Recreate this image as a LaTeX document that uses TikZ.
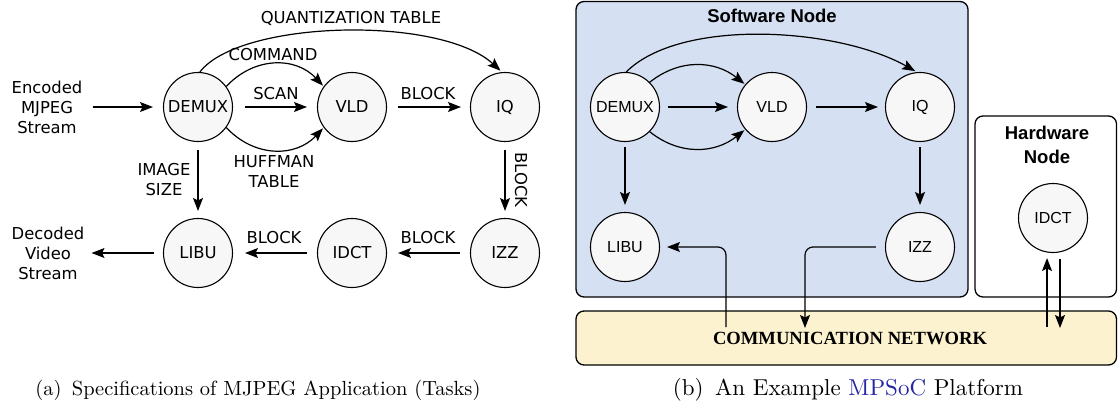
\documentclass[tikz,border=0pt]{standalone}
\usepackage{graphicx}
\usepackage{fontspec}
\newfontfamily\dvs{DejaVu Sans}
\newfontfamily\lsans{Liberation Sans}
\newfontfamily\lserif{Liberation Serif}
\usetikzlibrary{arrows.meta}
\definecolor{swblue}{HTML}{D5E0F3}
\definecolor{netyellow}{HTML}{FDF2D0}
\definecolor{circfill}{HTML}{F7F7F7}
\definecolor{linkblue}{HTML}{2525A5}
\begin{document}
\begin{tikzpicture}[x=1pt,y=-1pt,
  task/.style={circle,draw,line width=1.1pt,fill=circfill,minimum size=69pt,inner sep=0pt},
  ltask/.style={task,font=\dvs\fontsize{16.4}{20}\selectfont},
  rtask/.style={task,font=\lsans\fontsize{16}{19}\selectfont},
  lbl/.style={font=\dvs\fontsize{16.4}{20}\selectfont,align=center,inner sep=0pt},
  arr/.style={line width=1.2pt,-{Stealth[length=13pt,width=10pt,inset=2.5pt]}},
  box/.style={draw,line width=1.3pt,rounded corners=8pt},
  boxtitle/.style={font=\lsans\bfseries\fontsize{18.5}{24.5}\selectfont,align=center,inner sep=0pt}]
\useasboundingbox (0,0) rectangle (1118,410);

% ---------- (a) ----------
\node[ltask] (ld) at (198,107) {DEMUX};
\node[ltask] (lv) at (352,107) {VLD};
\node[ltask] (lq) at (505,107) {IQ};
\node[ltask] (ll) at (198,253) {LIBU};
\node[ltask] (lc) at (352,253) {IDCT};
\node[ltask] (lz) at (505,253) {IZZ};
\node[lbl] (enc) at (47,107) {Encoded\\MJPEG\\Stream};
\node[lbl] (dec) at (48,253) {Decoded\\Video\\Stream};

\draw[arr,shorten <=10pt,shorten >=10pt] (enc) -- (ld);
\draw[arr,shorten <=12pt,shorten >=10pt] (ld) -- (lv);
\draw[arr,shorten <=11pt,shorten >=9pt] (lv) -- (lq);
\draw[arr,shorten <=8pt,shorten >=7pt] (ld) -- (ll);
\draw[arr,shorten <=8pt,shorten >=7pt] (lq) -- (lz);
\draw[arr,shorten <=10pt,shorten >=11pt] (lz) -- (lc);
\draw[arr,shorten <=10pt,shorten >=12pt] (lc) -- (ll);
\draw[arr,shorten <=9pt,shorten >=7pt] (ll) -- (dec);
\draw[arr,shorten >=2pt] (ld.87) .. controls +(40,-52) and +(-62,-57) .. (lq.95);
\draw[arr,shorten >=1pt] (ld.36) .. controls +(28,-30) and +(-28,-30) .. (lv.144);
\draw[arr,shorten >=1pt] (ld.-36) .. controls +(28,30) and +(-28,30) .. (lv.-144);

\node[lbl] (tq) at (351,18) {QUANTIZATION TABLE};
\node[lbl] (tc) at (273,55) {COMMAND};
\node[lbl] (ts) at (276,94) {SCAN};
\node[lbl] (th) at (274,172) {HUFFMAN\\TABLE};
\node[lbl] (tb1) at (428,94) {BLOCK};
\node[lbl] (ti) at (164,180) {IMAGE\\SIZE};
\node[lbl,rotate=-90] (tb2) at (521,180) {BLOCK};
\node[lbl] (tb3) at (274,238) {BLOCK};
\node[lbl] (tb4) at (428,238) {BLOCK};

\node[inner sep=0pt] (capa) at (258,390) {\resizebox{445pt}{!}{(a)\enspace Specifications of MJPEG Application (Tasks)}};

% ---------- (b) ----------
\draw[box,fill=swblue] (576,1.5) rectangle (968,297);
\draw[box,fill=white] (975,116) rectangle (1116.5,297);
\draw[box,fill=netyellow] (576,311) rectangle (1116.5,365);

\node[boxtitle] (sw) at (772,16) {Software Node};
\node[boxtitle] (hw) at (1047,145) {Hardware\\Node};
\node[inner sep=0pt,font=\lserif\bfseries\fontsize{18.6}{22}\selectfont] (net) at (850,338) {COMMUNICATION NETWORK};

\node[rtask] (rd) at (625,107) {DEMUX};
\node[rtask] (rv) at (772,107) {VLD};
\node[rtask] (rq) at (920,107) {IQ};
\node[rtask] (rl) at (625,247) {LIBU};
\node[rtask] (rz) at (920,247) {IZZ};
\node[rtask] (rc) at (1053,218) {IDCT};

\draw[arr,shorten <=8pt,shorten >=9pt] (rd) -- (rv);
\draw[arr,shorten <=9pt,shorten >=7pt] (rv) -- (rq);
\draw[arr,shorten <=5pt,shorten >=7pt] (rd) -- (rl);
\draw[arr,shorten <=5pt,shorten >=7pt] (rq) -- (rz);
\draw[arr,shorten >=2pt] (rd.88) .. controls +(54,-54) and +(-80,-45) .. (rq.95);
\draw[arr,shorten >=1pt] (rd.45) .. controls +(30,-24) and +(-30,-24) .. (rv.140);
\draw[arr,shorten >=1pt] (rd.-45) .. controls +(30,24) and +(-30,24) .. (rv.-140);

\coordinate (nL) at (726,327);
\coordinate (nZ) at (805,328);
\coordinate (nU) at (1047,327);
\coordinate (nD) at (1060,328);
\draw[arr,rounded corners=8pt,shorten >=7pt] (nL) |- (rl);
\draw[arr,rounded corners=8pt,shorten <=9pt] (rz) -| (nZ);
\draw[arr,shorten >=5pt] (nU) -- (nU |- rc.south);
\draw[arr,shorten <=6pt] (nD |- rc.south) -- (nD);

\node[inner sep=0pt] (capb) at (848,390) {\resizebox{350pt}{!}{(b)\enspace An Example \textcolor{linkblue}{MPSoC} Platform}};
\end{tikzpicture}
\end{document}
